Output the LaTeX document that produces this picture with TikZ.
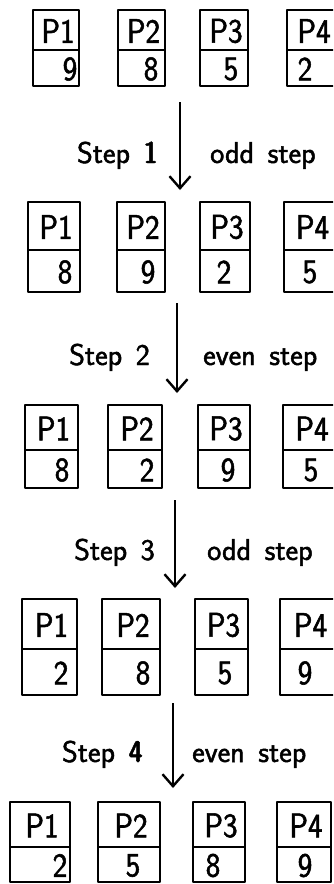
\documentclass[tikz,border=0pt]{standalone}
\usepackage{fontspec}
\usetikzlibrary{arrows.meta}
\newfontfamily\heavysans[FakeBold=1.6]{Latin Modern Sans}
\newfontfamily\heavysansbold[FakeBold=1.6]{Latin Modern Sans Demi Cond}
\newcommand\procbox[9]{%
  % #1 name, #2 left, #3 right, #4 top, #5 divider, #6 bottom, #7 label, #8 number, #9 number x
  \draw[boxline] (#2,#4) rectangle (#3,#6);
  \draw[boxline] (#2,#5) -- (#3,#5);
  \node[ptext] (#1p) at ({(#2+#3)/2+2},{(#4+#5)/2+1}) {#7};
  \node[ntext] (#1n) at (#9,{(#5+#6)/2+1}) {#8};
}
\begin{document}
\begin{tikzpicture}[x=1pt,y=-1pt,
  boxline/.style={line width=2.8pt, line join=round},
  ptext/.style={font=\fontsize{31}{36}\selectfont\heavysans, inner sep=0pt, yscale=1.1},
  ntext/.style={font=\fontsize{31}{36}\selectfont\heavysans, inner sep=0pt, yscale=1.1},
  steparrow/.style={line width=2.4pt, -{Straight Barb[length=12pt,width=21pt,line width=2.4pt]}},
  lefttext/.style={font=\fontsize{30}{36}\selectfont\heavysans, anchor=base east, inner sep=0pt},
  righttext/.style={font=\fontsize{30}{36}\selectfont\heavysans, anchor=base west, inner sep=0pt}]
\useasboundingbox (0,0) rectangle (333,884);
\begin{scope}
\clip (0,0) rectangle (333,884);
% Row 1
\procbox{ra}{33}{79}{10}{50}{86}{P1}{9}{70}
\procbox{rb}{118}{165}{10}{50}{86}{P2}{8}{151}
\procbox{rc}{200}{248}{10}{50}{86}{P3}{5}{231}
\procbox{rd}{287}{337}{10}{50}{86}{P4}{2}{305}
% Row 2
\procbox{sa}{28}{80}{202}{250}{292}{P1}{8}{65}
\procbox{sb}{117}{165}{202}{250}{292}{P2}{9}{148}
\procbox{sc}{200}{250}{202}{250}{292}{P3}{2}{224}
\procbox{sd}{284}{337}{202}{250}{292}{P4}{5}{310}
% Row 3
\procbox{ta}{25}{78}{405}{450}{488}{P1}{8}{62}
\procbox{tb}{108}{162}{405}{450}{488}{P2}{2}{147}
\procbox{tc}{198}{250}{405}{450}{488}{P3}{9}{228}
\procbox{td}{283}{337}{405}{450}{488}{P4}{5}{311}
% Row 4
\procbox{ua}{22}{77}{599}{649}{695}{P1}{2}{61}
\procbox{ub}{102}{160}{599}{649}{695}{P2}{8}{143}
\procbox{uc}{195}{248}{599}{649}{695}{P3}{5}{225}
\procbox{ud}{280}{337}{599}{649}{695}{P4}{9}{305}
% Row 5
\procbox{va}{10}{70}{802}{847}{882}{P1}{2}{60}
\procbox{vb}{98}{160}{802}{847}{882}{P2}{5}{133}
\procbox{vc}{193}{245}{802}{847}{882}{P3}{8}{213}
\procbox{vd}{277}{331}{802}{847}{882}{P4}{9}{305}
\end{scope}
% Arrows
\coordinate (a1s) at (180,102); \coordinate (a1e) at (180,190);
\coordinate (a2s) at (177,303); \coordinate (a2e) at (177,393);
\coordinate (a3s) at (175,500); \coordinate (a3e) at (175,588);
\coordinate (a4s) at (173,703); \coordinate (a4e) at (173,788);
\draw[steparrow] (a1s) -- (a1e);
\draw[steparrow] (a2s) -- (a2e);
\draw[steparrow] (a3s) -- (a3e);
\draw[steparrow] (a4s) -- (a4e);
% Labels
\node[lefttext] (l1) at (158,163) {Step\hspace{0.45em}{\heavysansbold 1}};
\node[righttext] (r1) at (210,163) {odd\hspace{0.45em}step};
\node[lefttext] (l2) at (150,365) {Step\hspace{0.45em}2};
\node[righttext] (r2) at (203,365) {even\hspace{0.45em}step};
\node[lefttext] (l3) at (155,560) {Step\hspace{0.45em}3};
\node[righttext] (r3) at (207,560) {odd\hspace{0.45em}step};
\node[lefttext] (l4) at (143,762) {Step\hspace{0.45em}{\heavysansbold 4}};
\node[righttext] (r4) at (192,762) {even\hspace{0.45em}step};
\end{tikzpicture}
\end{document}
